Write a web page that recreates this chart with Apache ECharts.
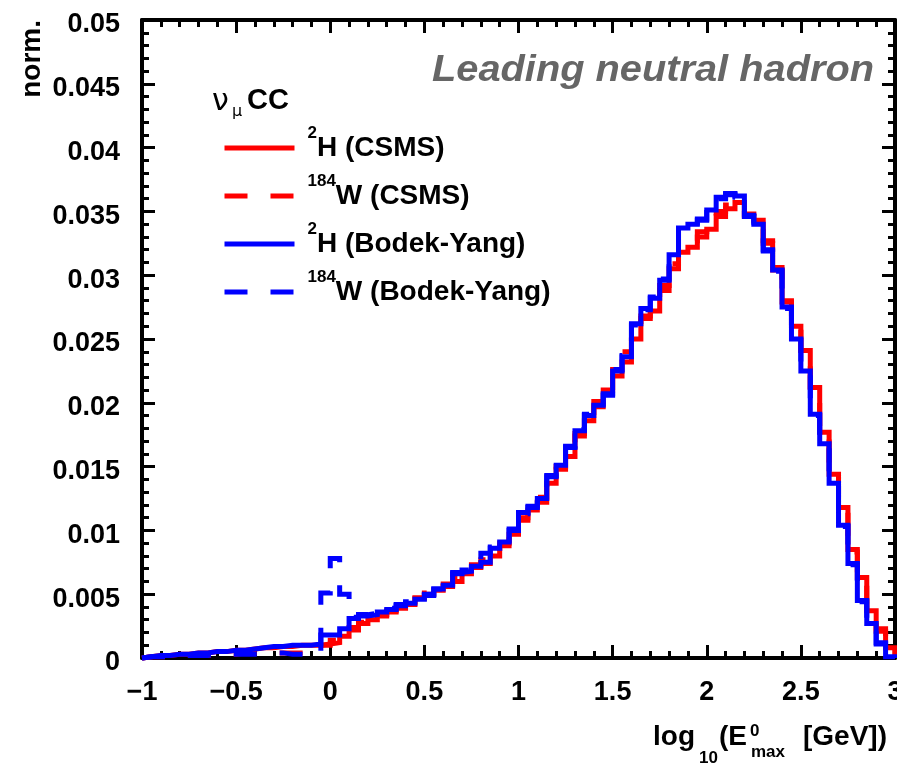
<!DOCTYPE html>
<html>
<head>
<meta charset="utf-8">
<script src="https://cdn.jsdelivr.net/npm/echarts@6/dist/echarts.min.js"></script>
<style>
html,body{margin:0;padding:0;background:#fff;}
#chart{width:897px;height:764px;}
</style>
</head>
<body>
<div id="chart"></div>
<script>
// Histogram binning
const X_MIN = -1;
const BIN_WIDTH = 0.05;

// Tick labels
const X_TICK_LABELS = ['\u22121', '\u22120.5', '0', '0.5', '1', '1.5', '2', '2.5', '3'];
const Y_TICK_LABELS = ['0', '0.005', '0.01', '0.015', '0.02', '0.025', '0.03', '0.035', '0.04', '0.045', '0.05'];

// Series names and legend text parts
const SERIES_NAMES = ['\u00B2H (CSMS)', '\u00B9\u2078\u2074W (CSMS)', '\u00B2H (Bodek-Yang)', '\u00B9\u2078\u2074W (Bodek-Yang)'];
const LEGEND_SUP = ['2', '184', '2', '184'];
const LEGEND_MAIN = ['H (CSMS)', 'W (CSMS)', 'H (Bodek-Yang)', 'W (Bodek-Yang)'];

// Bin contents (80 bins from -1 to 3)
const H2_CSMS = [
  0.0001,0.0002,0.0002,0.0003,0.0003,0.0004,0.0004,0.0005,0.0005,0.0006,
  0.0006,0.0007,0.0008,0.0008,0.0009,0.0009,0.0010,0.0010,0.0010,0.0011,
  0.0012,0.0017,0.0022,0.0027,0.0030,0.0033,0.0036,0.0039,0.0042,0.0047,
  0.0050,0.0053,0.0056,0.0060,0.0066,0.0071,0.0074,0.0080,0.0088,0.0097,
  0.0108,0.0116,0.0122,0.0137,0.0148,0.0158,0.0174,0.0186,0.0197,0.0210,
  0.0221,0.0232,0.0250,0.0266,0.0272,0.0288,0.0305,0.0318,0.0322,0.0330,
  0.0336,0.0346,0.0352,0.0357,0.0346,0.0343,0.0325,0.0304,0.0279,0.0260,
  0.0241,0.0212,0.0177,0.0144,0.0118,0.0085,0.0063,0.0037,0.0023,0.0008
];
const W184_CSMS = [
  0.0001,0.0001,0.0001,0.0002,0.0002,0.0002,0.0002,0.0003,0.0003,0.0003,
  0.0004,0.0004,0.0004,0.0004,0.0004,0.0004,0.0004,0.0004,0.0004,0.0010,
  0.0014,0.0019,0.0024,0.0028,0.0031,0.0034,0.0037,0.0040,0.0044,0.0047,
  0.0051,0.0054,0.0058,0.0063,0.0069,0.0073,0.0077,0.0083,0.0090,0.0101,
  0.0110,0.0118,0.0126,0.0139,0.0150,0.0162,0.0176,0.0189,0.0201,0.0212,
  0.0226,0.0240,0.0255,0.0268,0.0276,0.0292,0.0309,0.0322,0.0327,0.0334,
  0.0340,0.0350,0.0355,0.0359,0.0348,0.0344,0.0327,0.0306,0.0280,0.0259,
  0.0238,0.0208,0.0175,0.0142,0.0115,0.0083,0.0060,0.0036,0.0021,0.0007
];
const H2_BY = [
  0.0001,0.0002,0.0002,0.0003,0.0003,0.0004,0.0004,0.0005,0.0005,0.0006,
  0.0006,0.0007,0.0008,0.0009,0.0009,0.0010,0.0010,0.0010,0.0011,0.0018,
  0.0018,0.0023,0.0031,0.0033,0.0034,0.0036,0.0038,0.0041,0.0043,0.0046,
  0.0049,0.0054,0.0057,0.0067,0.0068,0.0072,0.0075,0.0086,0.0091,0.0100,
  0.0114,0.0118,0.0125,0.0143,0.0151,0.0165,0.0178,0.0190,0.0198,0.0206,
  0.0225,0.0236,0.0262,0.0274,0.0282,0.0296,0.0316,0.0337,0.0340,0.0343,
  0.0351,0.0361,0.0364,0.0362,0.0346,0.0340,0.0320,0.0304,0.0275,0.0250,
  0.0225,0.0191,0.0168,0.0137,0.0104,0.0074,0.0045,0.0027,0.0012,0.0001
];
const W184_BY = [
  0.0001,0.0001,0.0001,0.0002,0.0002,0.0002,0.0002,0.0003,0.0003,0.0003,
  0.0003,0.0003,0.0003,0.0004,0.0004,0.0003,0.0003,0.0003,0.0002,0.0051,
  0.0078,0.0050,0.0032,0.0034,0.0035,0.0037,0.0039,0.0042,0.0044,0.0047,
  0.0050,0.0054,0.0058,0.0066,0.0069,0.0073,0.0082,0.0087,0.0092,0.0101,
  0.0113,0.0119,0.0126,0.0142,0.0152,0.0166,0.0179,0.0191,0.0199,0.0207,
  0.0226,0.0237,0.0261,0.0273,0.0283,0.0297,0.0317,0.0336,0.0341,0.0344,
  0.0352,0.0360,0.0363,0.0361,0.0347,0.0339,0.0319,0.0303,0.0274,0.0249,
  0.0224,0.0190,0.0167,0.0136,0.0103,0.0073,0.0044,0.0026,0.0011,0.0001
];

const SERIES_VALUES = [H2_CSMS, W184_CSMS, H2_BY, W184_BY];
const SERIES_COLORS = ['#ff0000', '#ff0000', '#0000ff', '#0000ff'];
const SERIES_DASHED = [false, true, false, true];

function histData(vals) {
  const pts = [[X_MIN, 0]];
  for (let i = 0; i < vals.length; i++) {
    pts.push([X_MIN + i * BIN_WIDTH, vals[i]]);
  }
  const xEnd = X_MIN + vals.length * BIN_WIDTH;
  pts.push([xEnd, vals[vals.length - 1]]);
  pts.push([xEnd, 0]);
  return pts;
}

const FONT = '"Liberation Sans", Arial, Helvetica, sans-serif';

function xLabel(v) {
  const idx = Math.round((v - X_MIN) / 0.5);
  return X_TICK_LABELS[idx] !== undefined ? X_TICK_LABELS[idx] : '';
}
function yLabel(v) {
  const idx = Math.round(v / 0.005);
  return Y_TICK_LABELS[idx] !== undefined ? Y_TICK_LABELS[idx] : '';
}

const axisLineStyle = { show: true, onZero: false, lineStyle: { color: '#000', width: 4 } };
const tickStyle = { show: true, inside: true, length: 13, lineStyle: { color: '#000', width: 3 } };
const minorTickStyle = { show: true, splitNumber: 5, length: 7, lineStyle: { color: '#000', width: 3 } };

const chart = echarts.init(document.getElementById('chart'), null, { renderer: 'canvas' });

const option = {
  animation: false,
  backgroundColor: '#ffffff',
  grid: { left: 142, right: 2, top: 20, bottom: 106, containLabel: false, outerBoundsMode: 'none' },
  xAxis: [
    {
      type: 'value', min: -1, max: 3, interval: 0.5, position: 'bottom',
      axisLine: axisLineStyle, axisTick: tickStyle, minorTick: minorTickStyle,
      splitLine: { show: false }, minorSplitLine: { show: false },
      axisLabel: {
        show: true, margin: 21, color: '#000', fontSize: 27, fontWeight: 'bold', fontFamily: FONT,
        formatter: xLabel, showMinLabel: true, showMaxLabel: true, hideOverlap: false
      }
    },
    {
      type: 'value', min: -1, max: 3, interval: 0.5, position: 'top',
      axisLine: axisLineStyle, axisTick: tickStyle, minorTick: minorTickStyle,
      splitLine: { show: false }, axisLabel: { show: false }
    }
  ],
  yAxis: [
    {
      type: 'value', min: 0, max: 0.05, interval: 0.005, position: 'left',
      axisLine: axisLineStyle, axisTick: tickStyle, minorTick: minorTickStyle,
      splitLine: { show: false }, minorSplitLine: { show: false },
      axisLabel: {
        show: true, margin: 22, color: '#000', fontSize: 27, fontWeight: 'bold', fontFamily: FONT,
        verticalAlign: 'top', lineHeight: 10,
        formatter: yLabel, showMinLabel: true, showMaxLabel: true, hideOverlap: false
      }
    },
    {
      type: 'value', min: 0, max: 0.05, interval: 0.005, position: 'right',
      axisLine: axisLineStyle, axisTick: tickStyle, minorTick: minorTickStyle,
      splitLine: { show: false }, axisLabel: { show: false }
    }
  ],
  legend: {
    orient: 'vertical', left: 222, top: 125, padding: 0,
    itemWidth: 70, itemHeight: 14, itemGap: 11, selectedMode: false,
    itemStyle: { opacity: 0 },
    lineStyle: { width: 5 },
    data: SERIES_NAMES,
    formatter: function (name) {
      const i = SERIES_NAMES.indexOf(name);
      return '{sup|' + LEGEND_SUP[i] + '}{main|' + LEGEND_MAIN[i] + '}';
    },
    textStyle: {
      color: '#000',
      rich: {
        sup: { fontSize: 17, fontWeight: 'bold', fontFamily: FONT, color: '#000', lineHeight: 16, verticalAlign: 'top', padding: [0, 0, 0, 8] },
        main: { fontSize: 28, fontWeight: 'bold', fontFamily: FONT, color: '#000', lineHeight: 46 }
      }
    }
  },
  graphic: [
    { type: 'text', x: 32, y: 20, rotation: Math.PI / 2, silent: true,
      style: { text: 'norm.', font: 'bold 28px ' + FONT, fill: '#000', align: 'right', verticalAlign: 'middle' } },
    { type: 'text', x: 874, y: 71, scaleX: 1.075, silent: true,
      style: { text: 'Leading neutral hadron', font: 'italic bold 37px ' + FONT, fill: '#666666', align: 'right', verticalAlign: 'middle' } },
    { type: 'text', x: 212, y: 102, silent: true,
      style: { text: '\u03BD', font: '30px "DejaVu Sans", sans-serif', fill: '#000', align: 'left', verticalAlign: 'middle' } },
    { type: 'text', x: 232, y: 112, silent: true,
      style: { text: '\u03BC', font: '16px "DejaVu Sans", sans-serif', fill: '#000', align: 'left', verticalAlign: 'middle' } },
    { type: 'text', x: 247, y: 101, silent: true,
      style: { text: 'CC', font: 'bold 29px ' + FONT, fill: '#000', align: 'left', verticalAlign: 'middle' } },
    { type: 'text', x: 653, y: 737, silent: true,
      style: { text: 'log', font: 'bold 28px ' + FONT, fill: '#000', align: 'left', verticalAlign: 'middle' } },
    { type: 'text', x: 699, y: 758, silent: true,
      style: { text: '10', font: 'bold 17px ' + FONT, fill: '#000', align: 'left', verticalAlign: 'middle' } },
    { type: 'text', x: 719, y: 737, silent: true,
      style: { text: '(E', font: 'bold 28px ' + FONT, fill: '#000', align: 'left', verticalAlign: 'middle' } },
    { type: 'text', x: 750, y: 731, silent: true,
      style: { text: '0', font: 'bold 17px ' + FONT, fill: '#000', align: 'left', verticalAlign: 'middle' } },
    { type: 'text', x: 751, y: 752, silent: true,
      style: { text: 'max', font: 'bold 17px ' + FONT, fill: '#000', align: 'left', verticalAlign: 'middle' } },
    { type: 'text', x: 803, y: 737, silent: true,
      style: { text: '[GeV])', font: 'bold 28px ' + FONT, fill: '#000', align: 'left', verticalAlign: 'middle' } }
  ],
  series: SERIES_NAMES.map(function (name, k) {
    return {
      name: name,
      type: 'line',
      xAxisIndex: 0,
      yAxisIndex: 0,
      step: 'end',
      symbol: 'none',
      showSymbol: false,
      clip: false,
      color: SERIES_COLORS[k],
      z: 3 + k,
      lineStyle: { color: SERIES_COLORS[k], width: 5, type: SERIES_DASHED[k] ? [23, 23] : 'solid', cap: 'butt', join: 'miter' },
      data: histData(SERIES_VALUES[k])
    };
  })
};

chart.setOption(option);
</script>
</body>
</html>
